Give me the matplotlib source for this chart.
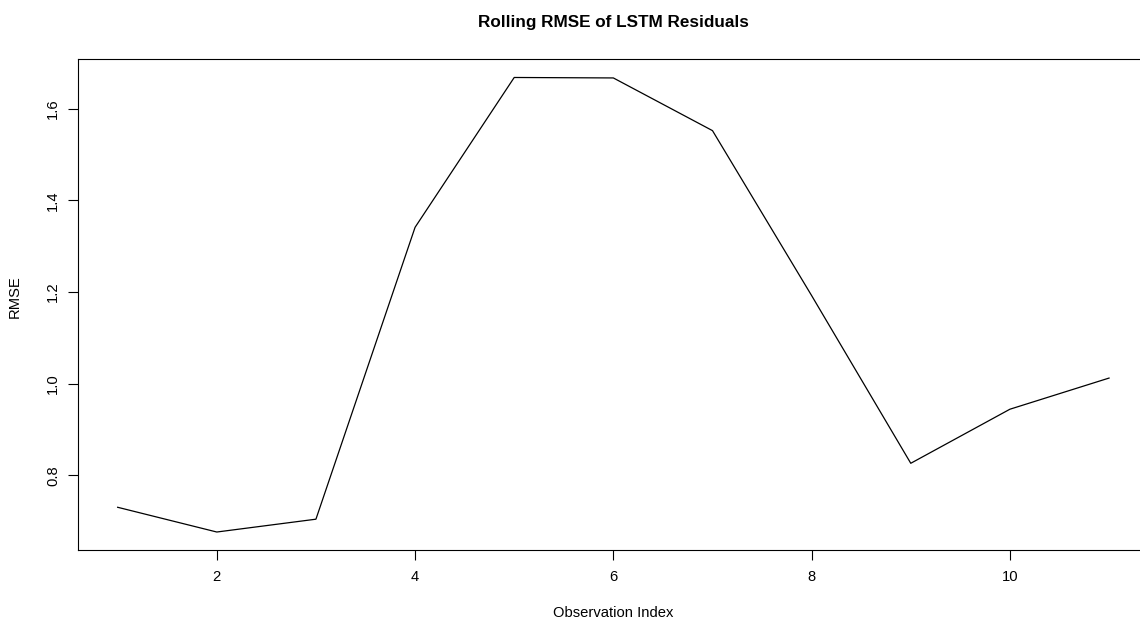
import matplotlib
matplotlib.use("Agg")
import matplotlib.pyplot as plt

obs_index = [1, 2, 3, 4, 5, 6, 7, 8, 9, 10, 11]
rmse = [0.730, 0.676, 0.704, 1.341, 1.668, 1.667, 1.552, 1.192, 0.826, 0.944, 1.012]
x_ticks = [2, 4, 6, 8, 10]
y_ticks = [0.8, 1.0, 1.2, 1.4, 1.6]
y_tick_labels = ["0.8", "1.0", "1.2", "1.4", "1.6"]

plt.rcParams['font.family'] = ['Liberation Sans', 'DejaVu Sans']

base = 10.6
W, H = 1140, 619
fig = plt.figure(figsize=(W / 100, H / 100), dpi=100)
left, right, top, bottom = 78, 1148.7, 59.3, 550.2
ax = fig.add_axes([left / W, (H - bottom) / H, (right - left) / W, (bottom - top) / H])

ax.plot(obs_index, rmse, color="black", linewidth=0.9)

# R-style 4% range expansion
xr = max(obs_index) - min(obs_index)
yr = max(rmse) - min(rmse)
ax.set_xlim(min(obs_index) - 0.04 * xr, max(obs_index) + 0.04 * xr)
ax.set_ylim(min(rmse) - 0.04 * yr, max(rmse) + 0.04 * yr)

ax.set_xticks(x_ticks)
ax.set_xticklabels([str(t) for t in x_ticks], fontsize=base)
ax.set_yticks(y_ticks)
ax.set_yticklabels(y_tick_labels, fontsize=base, rotation=90, va="center")
ax.tick_params(axis="both", direction="out", length=7, width=0.8, color="black")
ax.tick_params(axis="x", pad=7)
ax.tick_params(axis="y", pad=6)

for s in ax.spines.values():
    s.set_linewidth(0.8)
    s.set_color("black")
ax.spines["right"].set_visible(False)

fig.text(613 / W, 1 - 23 / H, "Rolling RMSE of LSTM Residuals",
         ha="center", va="center", fontsize=12.3, fontweight="bold")
fig.text(613 / W, 1 - 613 / H, "Observation Index", ha="center", va="center", fontsize=base)
fig.text(15 / W, 1 - 297 / H, "RMSE", ha="center", va="center", fontsize=base, rotation=90)

fig.savefig("out.png", dpi=100, facecolor="white")
